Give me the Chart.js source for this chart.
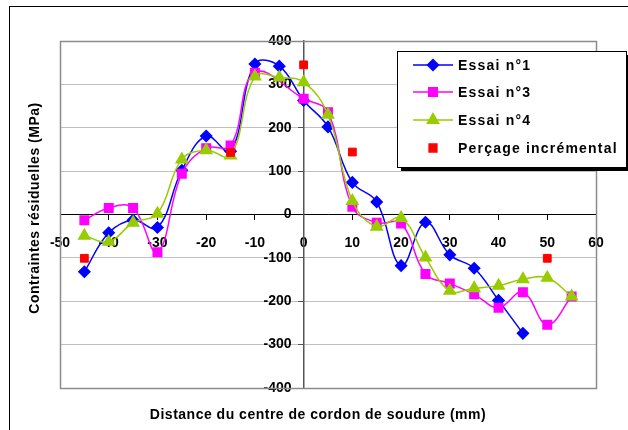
<!DOCTYPE html>
<html>
<head>
<meta charset="utf-8">
<script src="https://cdn.jsdelivr.net/npm/chart.js@4/dist/chart.umd.min.js"></script>
<style>
  html, body { margin: 0; padding: 0; background: #fff; }
  #wrap { width: 628px; height: 430px; }
</style>
</head>
<body>
<div id="wrap"><canvas id="chart" width="628" height="430"></canvas></div>
<script>
// Distances (mm) pour chaque série
const distEssai = [-45, -40, -35, -30, -25, -20, -15, -10, -5, 0, 5, 10, 15, 20, 25, 30, 35, 40, 45, 50, 55];
const distEssai3 = [-45, -40, -35, -30, -25, -20, -15, -10, 0, 5, 10, 15, 20, 25, 30, 35, 40, 45, 50, 55];
const distPercage = [-45, -15, 0, 10, 50];

// Contraintes résiduelles (MPa)
const essai1 = [-132, -42, -13, -30, 102, 181, 146, 347, 342, 263, 202, 74, 29, -118, -18, -93, -124, -198, -274];
const essai3 = [-13, 15, 15, -87, 94, 153, 159, 327, 267, 236, 18, -19, -21, -137, -159, -184, -215, -179, -254, -189];
const essai4 = [-49, -63, -19, 2, 127, 148, 136, 318, 316, 305, 230, 31, -28, -8, -99, -176, -170, -164, -149, -146, -189];
const percage = [-101, 143, 345, 144, -101];

const xTicks = [-50, -40, -30, -20, -10, 0, 10, 20, 30, 40, 50, 60];
const yTicks = [-400, -300, -200, -100, 0, 100, 200, 300, 400];

const toPoints = (xs, ys) => ys.map((y, i) => ({ x: xs[i], y: y }));

const FONT = 'bold 14px "Liberation Sans", Arial, sans-serif';

// cadre, titres des axes et légende dessinés à la main
const decorPlugin = {
  id: 'decor',
  beforeDraw(chart) {
    const ctx = chart.ctx;
    ctx.save();
    ctx.fillStyle = '#fff';
    ctx.fillRect(0, 0, chart.width, chart.height);
    ctx.strokeStyle = '#000';
    ctx.lineWidth = 1;
    ctx.strokeRect(9.5, 6.5, 800, 600);
    ctx.restore();

    // l'axe y positionné sur x=0 ignore ticks.padding : on décale les libellés
    const items = chart.scales.y.getLabelItems();
    if (!items._shifted) {
      items.forEach(it => { it.options.translation[0] -= 12; });
      items._shifted = true;
    }
  },
  beforeDatasetsDraw(chart) {
    const ctx = chart.ctx;
    const a = chart.chartArea;
    ctx.save();
    ctx.strokeStyle = '#8c8c8c';
    ctx.lineWidth = 1.5;
    ctx.strokeRect(Math.round(a.left) + 0.5, Math.round(a.top) + 0.5, Math.round(a.right - a.left), Math.round(a.bottom - a.top));
    ctx.restore();
  },
  afterDraw(chart) {
    const ctx = chart.ctx;
    ctx.save();
    ctx.fillStyle = '#000';
    ctx.font = FONT;
    ctx.textAlign = 'center';
    ctx.textBaseline = 'middle';
    ctx.letterSpacing = '0.5px';
    ctx.fillText('Distance du centre de cordon de soudure (mm)', 318, 415);
    ctx.translate(35, 208);
    ctx.rotate(-Math.PI / 2);
    ctx.fillText('Contraintes résiduelles (MPa)', 0, 0);
    ctx.restore();

    // légende
    const bx = 397, by = 51, bw = 229, bh = 116;
    ctx.save();
    ctx.fillStyle = '#000';
    ctx.fillRect(bx + 4, by + 4, bw + 10, bh);
    ctx.fillStyle = '#fff';
    ctx.fillRect(bx, by, bw, bh);
    ctx.strokeStyle = '#000';
    ctx.lineWidth = 1;
    ctx.strokeRect(bx + 0.5, by + 0.5, bw, bh);
    const rows = [65, 92, 120, 148];
    chart.data.datasets.forEach((ds, i) => {
      const y = rows[i];
      if (ds.showLine !== false) {
        ctx.strokeStyle = ds.borderColor;
        ctx.lineWidth = ds.borderWidth;
        ctx.beginPath();
        ctx.moveTo(413, y);
        ctx.lineTo(453, y);
        ctx.stroke();
      }
      ctx.fillStyle = ds.pointBackgroundColor;
      ctx.strokeStyle = ds.pointBorderColor;
      Chart.helpers.drawPoint(ctx, {
        pointStyle: ds.pointStyle,
        radius: ds.pointRadius,
        rotation: 0,
        borderWidth: 1
      }, 433, y);
      ctx.fillStyle = '#000';
      ctx.font = FONT;
      ctx.textAlign = 'left';
      ctx.textBaseline = 'middle';
      ctx.letterSpacing = '1.2px';
      ctx.fillText(ds.label, 458, y + 1);
    });
    ctx.restore();
  }
};

new Chart(document.getElementById('chart'), {
  type: 'line',
  data: {
    datasets: [
      {
        label: 'Essai n°1',
        data: toPoints(distEssai, essai1),
        borderColor: '#0000ff',
        backgroundColor: '#0000ff',
        pointBackgroundColor: '#0000ff',
        pointBorderColor: '#0000ff',
        pointStyle: 'rectRot',
        pointRadius: 5.5,
        borderWidth: 1.5,
        tension: 0.4,
        order: 4
      },
      {
        label: 'Essai n°3',
        data: toPoints(distEssai3, essai3),
        borderColor: '#ff00ff',
        backgroundColor: '#ff00ff',
        pointBackgroundColor: '#ff00ff',
        pointBorderColor: '#ff00ff',
        pointStyle: 'rect',
        pointRadius: 6,
        borderWidth: 1.5,
        tension: 0.4,
        order: 3
      },
      {
        label: 'Essai n°4',
        data: toPoints(distEssai, essai4),
        borderColor: '#99cc00',
        backgroundColor: '#99cc00',
        pointBackgroundColor: '#99cc00',
        pointBorderColor: '#99cc00',
        pointStyle: 'triangle',
        pointRadius: 6.5,
        borderWidth: 1.5,
        tension: 0.4,
        order: 2
      },
      {
        label: 'Perçage incrémental',
        data: toPoints(distPercage, percage),
        borderColor: '#ff0000',
        backgroundColor: '#ff0000',
        pointBackgroundColor: '#ff0000',
        pointBorderColor: '#ff0000',
        pointStyle: 'rect',
        pointRadius: 5.5,
        showLine: false,
        order: 1
      }
    ]
  },
  options: {
    responsive: false,
    animation: false,
    layout: { padding: { left: 60, right: 32, top: 41, bottom: 42 } },
    plugins: {
      legend: { display: false },
      tooltip: { enabled: false }
    },
    scales: {
      x: {
        type: 'linear',
        position: { y: 0 },
        min: -50,
        max: 60,
        afterBuildTicks: (axis) => { axis.ticks = xTicks.map(v => ({ value: v })); },
        grid: { drawOnChartArea: false, tickLength: 5, color: '#000', tickColor: '#000' },
        border: { color: '#000', width: 1 },
        ticks: { color: '#000', font: { family: '"Liberation Sans", Arial, sans-serif', size: 14, weight: 'bold' }, padding: 15, maxRotation: 0, autoSkip: false }
      },
      y: {
        type: 'linear',
        position: { x: 0 },
        min: -400,
        max: 400,
        afterBuildTicks: (axis) => { axis.ticks = yTicks.map(v => ({ value: v })); },
        grid: { color: '#c0c0c0', tickLength: 5, tickColor: '#555', lineWidth: 1 },
        border: { color: '#555', width: 1.5 },
        ticks: { color: '#000', font: { family: '"Liberation Sans", Arial, sans-serif', size: 14, weight: 'bold' }, padding: 8, autoSkip: false }
      }
    }
  },
  plugins: [decorPlugin]
});
</script>
</body>
</html>
